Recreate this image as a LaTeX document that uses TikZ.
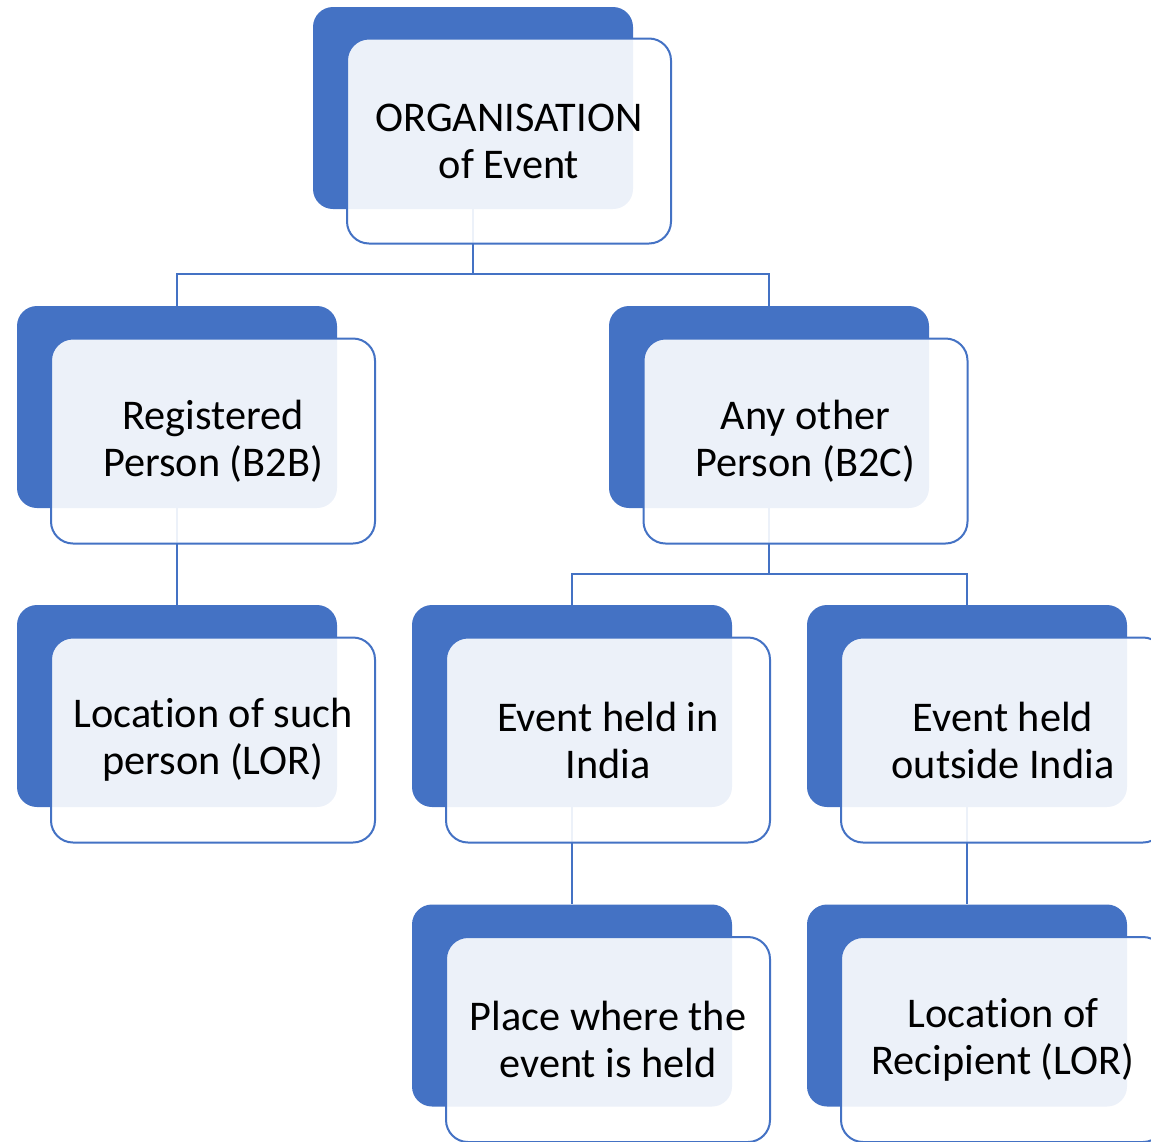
\documentclass[tikz,border=0pt]{standalone}
\usepackage{fontspec}
\setmainfont[Ligatures={NoCommon,NoContextual}]{Carlito}
\usetikzlibrary{positioning,calc}
\definecolor{accent}{HTML}{4472C4}
% keep "t" and "i" as separate glyphs
\newcommand{\nolig}{\kern0pt }
\tikzset{
  x=1pt, y=-1pt,
  backbox/.style={draw=none, fill=accent, rounded corners=20pt,
    minimum width=320pt, minimum height=202pt, inner sep=0pt},
  frontbox/.style={draw=accent, line width=2pt, fill=white, fill opacity=0.9,
    text opacity=1, rounded corners=22pt, minimum width=324pt,
    minimum height=205pt, align=center, inner sep=0pt,
    font=\fontsize{42.3}{47}\selectfont},
  link/.style={draw=accent, line width=2.4pt}
}
\begin{document}
\begin{tikzpicture}
\useasboundingbox (0,0) rectangle (1151,1141);
\clip (0,0) rectangle (1151,1141);
% back plates
\node[backbox] (rootB) at (473,108) {};
\node[backbox] (b2bB)  at (177,407) {};
\node[backbox] (b2cB)  at (769,407) {};
\node[backbox] (lorB)  at (177,706) {};
\node[backbox] (inB)   at (572,706) {};
\node[backbox] (outB)  at (967,706) {};
\node[backbox] (placeB) at (572,1005.5) {};
\node[backbox] (recB)  at (967,1005.5) {};
% bus levels
\coordinate (bus1) at (0,274);
\coordinate (bus2) at (0,574);
% connectors
\draw[link] (rootB.south) -- (rootB.south |- bus1);
\draw[link] (b2bB.north) |- (bus1 -| rootB.south) -| (b2cB.north);
\draw[link] (b2bB.south) -- (lorB.north);
\draw[link] (b2cB.south) -- (b2cB.south |- bus2);
\draw[link] (inB.north) |- (bus2 -| b2cB.south) -| (outB.north);
\draw[link] (inB.south) -- (placeB.north);
\draw[link] (outB.south) -- (recB.north);
% front panels with text
\node[frontbox] (root)  at (509,141)  {ORGANISATION\\of Event};
\node[frontbox] (b2b)   at (213,441) {Registered\\Person (B2B)};
\node[frontbox] (b2c)   at (805.5,441) {Any other\\Person (B2C)};
\node[frontbox] (lor)   at (213,740) {Locat\nolig ion of such\\person (LOR)};
\node[frontbox] (in)    at (608,740) {Event held in\\India};
\node[frontbox] (out)   at (1003,740) {Event held\\outside India};
\node[frontbox] (place) at (608,1039.5) {Place where the\\event is held};
\node[frontbox] (rec)   at (1003,1039.5) {Locat\nolig ion of\\Recipient (LOR)};
\end{tikzpicture}
\end{document}
